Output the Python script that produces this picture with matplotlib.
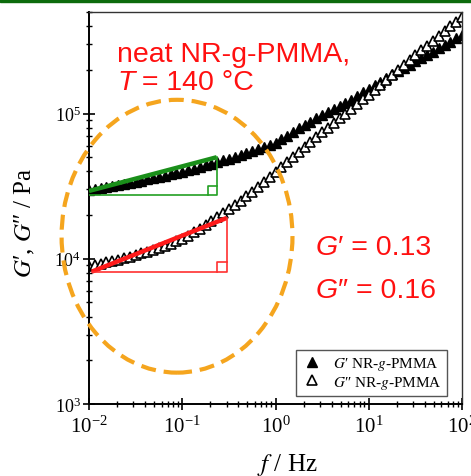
import numpy as np
import matplotlib
matplotlib.use('Agg')
import matplotlib.pyplot as plt
from matplotlib.patches import Ellipse, Rectangle

# frekvenca (Hz) - 16 tock na dekado
f = np.logspace(-2, 2, 65)

# log10 vrednosti G' in G'' (Pa), odcitano s slike
logG1 = [4.470, 4.477, 4.485, 4.492, 4.500, 4.507, 4.515, 4.522, 4.530, 4.538,
         4.547, 4.555, 4.564, 4.573, 4.582, 4.591, 4.600, 4.610, 4.621, 4.632,
         4.644, 4.655, 4.667, 4.678, 4.690, 4.702, 4.715, 4.729, 4.743, 4.757,
         4.771, 4.785, 4.800, 4.823, 4.848, 4.874, 4.900, 4.922, 4.945, 4.967,
         4.990, 5.010, 5.030, 5.050, 5.070, 5.095, 5.120, 5.145, 5.170, 5.195,
         5.220, 5.245, 5.270, 5.292, 5.315, 5.337, 5.360, 5.382, 5.405, 5.427,
         5.450, 5.472, 5.495, 5.517, 5.540]
logG2 = [3.950, 3.958, 3.967, 3.975, 3.984, 3.994, 4.004, 4.014, 4.025, 4.037,
         4.049, 4.062, 4.075, 4.089, 4.103, 4.119, 4.135, 4.158, 4.182, 4.206,
         4.230, 4.257, 4.285, 4.312, 4.340, 4.370, 4.400, 4.430, 4.460, 4.494,
         4.527, 4.561, 4.595, 4.630, 4.665, 4.700, 4.735, 4.769, 4.802, 4.836,
         4.870, 4.902, 4.935, 4.967, 5.000, 5.032, 5.065, 5.097, 5.130, 5.164,
         5.198, 5.231, 5.265, 5.299, 5.333, 5.366, 5.400, 5.434, 5.468, 5.501,
         5.535, 5.567, 5.600, 5.632, 5.665]
G1 = 10 ** np.array(logG1)
G2 = 10 ** np.array(logG2)

# naklonska trikotnika (f, G)
zelen_f = [0.01, 0.234]
zelen_G = [2.93e4, 5.0e4]
zelen_dno = 2.74e4
rdec_f = [0.0107, 0.30]
rdec_G = [8.15e3, 1.91e4]

plt.rcParams['font.family'] = ['Liberation Serif', 'DejaVu Serif']
plt.rcParams['mathtext.fontset'] = 'stix'

fig = plt.figure(figsize=(4.71, 4.77), dpi=100)
ax = fig.add_axes([89/471, 1-405/477, 373/471, 392/477])

# zelena crta na vrhu
fig.patches.append(Rectangle((0, 1-3/477), 1, 3/477, transform=fig.transFigure,
                             color='#0c6b0c', zorder=0))

ax.plot(f, G1, '^', color='black', ms=7.5, mew=1, label="$G$′ NR-$g$-PMMA")
ax.plot(f, G2, '^', mfc='white', mec='black', ms=7.5, mew=1.2,
        label="$G$″ NR-$g$-PMMA")

ax.set_xscale('log')
ax.set_yscale('log')
ax.set_xlim(1e-2, 1e2)
ax.set_ylim(1e3, 5e5)

# zelen trikotnik
ax.plot(zelen_f, zelen_G, color='#1a8f1a', lw=3.2, solid_capstyle='butt', zorder=5)
ax.plot([zelen_f[0], zelen_f[1], zelen_f[1]], [zelen_dno, zelen_dno, zelen_G[1]],
        color='#22a022', lw=1.2, zorder=5)
sx = zelen_f[1] / 10 ** (9/93.5)
sy = zelen_dno * 10 ** (9/146)
ax.plot([sx, sx, zelen_f[1]], [zelen_dno, sy, sy], color='#22a022', lw=1.2, zorder=5)

# rdec trikotnik
ax.plot(rdec_f, rdec_G, color='#ff1a1a', lw=3.2, solid_capstyle='butt', zorder=5)
ax.plot([rdec_f[0], rdec_f[1], rdec_f[1]], [rdec_G[0], rdec_G[0], rdec_G[1]],
        color='#ff3030', lw=1.2, zorder=5)
sx = rdec_f[1] / 10 ** (10/93.5)
sy = rdec_G[0] * 10 ** (10/146)
ax.plot([sx, sx, rdec_f[1]], [rdec_G[0], sy, sy], color='#ff3030', lw=1.2, zorder=5)

# oranzna elipsa
ax.add_patch(Ellipse((0.236, 0.428), 0.619, 0.696, transform=ax.transAxes, fill=False,
                     edgecolor='#f5a51e', lw=3, ls=(0, (3.6, 1.9)), clip_on=False,
                     zorder=6))

ax.tick_params(which='both', direction='inout', top=False, right=False)
ax.tick_params(which='major', length=8, width=1.2)
ax.tick_params(which='minor', length=5, width=1)
ax.tick_params(axis='x', labelsize=15, pad=4)
ax.tick_params(axis='y', labelsize=13, pad=2)
for s in ['left', 'bottom']:
    ax.spines[s].set_linewidth(1.4)
for s in ['top', 'right']:
    ax.spines[s].set_linewidth(1.0)
    ax.spines[s].set_color('#333333')

fig.text(0.053, 0.532, "$G$′, $G$″ / Pa", rotation=90, ha='center', va='center',
         fontsize=18)
fig.text(287/471, 0.013, "$f$ / Hz", ha='center', va='baseline', fontsize=18)

leg = ax.legend(loc='lower right', bbox_to_anchor=(0.96, 0.02), borderaxespad=0,
                fontsize=11, fancybox=False, edgecolor='#555555', framealpha=1,
                handletextpad=0.6, borderpad=0.35, labelspacing=0.12,
                handlelength=1.5)
leg.get_frame().set_linewidth(1.0)

# rdec tekst iz vec delov (posevne crke)
renderer = fig.canvas.get_renderer()


def rich(x, y, parts):
    for s, st in parts:
        t = fig.text(x, y, s, color='#ff1010', fontsize=20.5, style=st,
                     family=['Liberation Sans', 'DejaVu Sans'], va='baseline')
        x += t.get_window_extent(renderer).width / fig.bbox.width


rich(117/471, 1-62/477, [("neat NR-g-PMMA,", 'normal')])
rich(117/471, 1-90/477, [("T", 'italic'), (" = 140 °C", 'normal')])
rich(316/471, 1-255/477, [("G", 'italic'), ("′ = 0.13", 'normal')])
rich(316/471, 1-298/477, [("G", 'italic'), ("″ = 0.16", 'normal')])

fig.savefig('out.png', dpi=100)
